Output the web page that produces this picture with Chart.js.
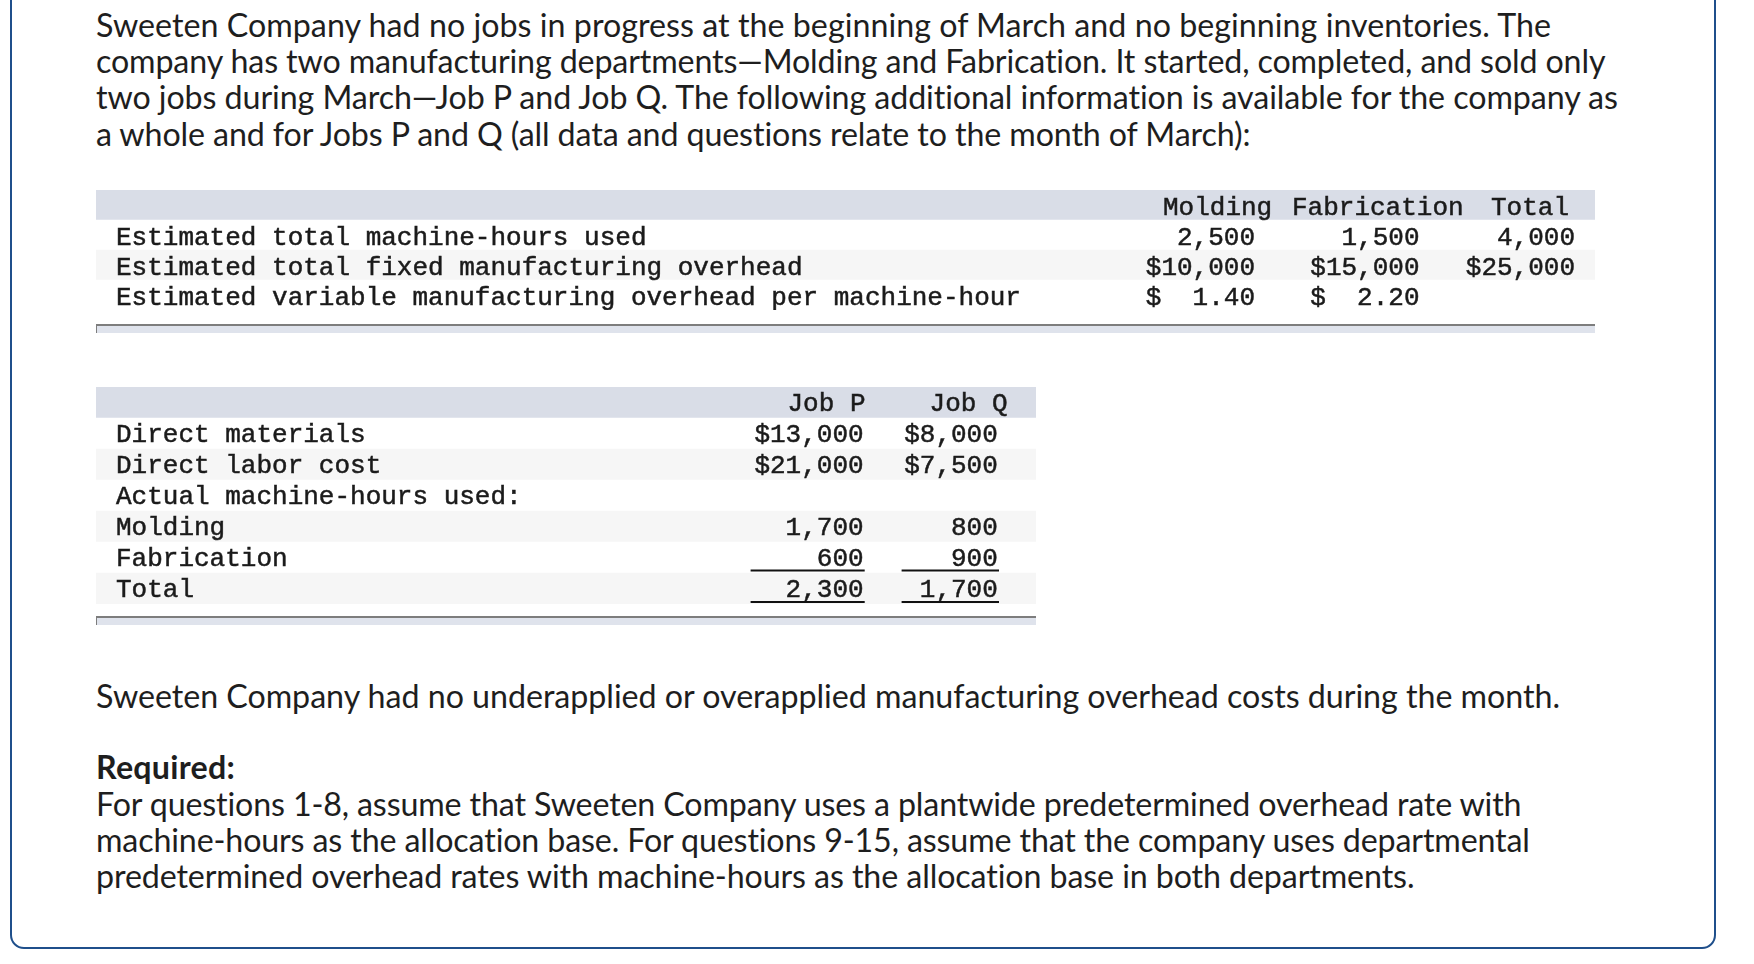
<!DOCTYPE html>
<html>
<head>
<meta charset="utf-8">
<script src="https://cdn.jsdelivr.net/npm/chart.js@4.4.1/dist/chart.umd.min.js"></script>
<style>
  html, body { margin: 0; padding: 0; background: #fff; }
  body { width: 1754px; height: 964px; position: relative; overflow: hidden; font-family: Lato, "Open Sans", sans-serif; color: #1e1e1e; }
  .frame { position: absolute; left: 10px; top: -30px; width: 1702px; height: 975px; border: 2.5px solid #1f4f8b; border-radius: 14px; }
  .line { position: absolute; left: 96px; white-space: nowrap; line-height: 36px; height: 36px; }
  .line.b { font-weight: 700; }
  canvas { position: absolute; }
  .rule { position: absolute; border-top: 2px solid #7d7d7d; border-left: 1px solid #7d7d7d; background: #dfe3ec; height: 9px; box-sizing: border-box; }
</style>
</head>
<body>
<div class="frame"></div>
<div id="text"></div>
<canvas id="t1" width="1499" height="120" style="left:96px; top:190px;"></canvas>
<div class="rule" style="left:96px; top:324px; width:1499px;"></div>
<canvas id="t2" width="940" height="217" style="left:96px; top:387px;"></canvas>
<div class="rule" style="left:96px; top:616px; width:940px;"></div>
<script>
// texte
var introLines = [
  'Sweeten Company had no jobs in progress at the beginning of March and no beginning inventories. The',
  'company has two manufacturing departments\u2014Molding and Fabrication. It started, completed, and sold only',
  'two jobs during March\u2014Job P and Job Q. The following additional information is available for the company as',
  'a whole and for Jobs P and Q (all data and questions relate to the month of March):'
];
var noteLine = 'Sweeten Company had no underapplied or overapplied manufacturing overhead costs during the month.';
var requiredTitle = 'Required:';
var requiredLines = [
  'For questions 1-8, assume that Sweeten Company uses a plantwide predetermined overhead rate with',
  'machine-hours as the allocation base. For questions 9-15, assume that the company uses departmental',
  'predetermined overhead rates with machine-hours as the allocation base in both departments.'
];

// tableau 1
var t1Rows = ['', 'Estimated total machine-hours used', 'Estimated total fixed manufacturing overhead', 'Estimated variable manufacturing overhead per machine-hour'];
var t1Heads = ['Molding', 'Fabrication', 'Total'];
var t1Molding = ['', '2,500', '$10,000', '$  1.40'];
var t1Fabrication = ['', '1,500', '$15,000', '$  2.20'];
var t1Total = ['', '4,000', '$25,000', ''];

// tableau 2
var t2Rows = ['', 'Direct materials', 'Direct labor cost', 'Actual machine-hours used:', 'Molding', 'Fabrication', 'Total'];
var t2Heads = ['Job P', 'Job Q'];
var t2JobP = ['', '$13,000', '$21,000', '', '1,700', '600', '2,300'];
var t2JobQ = ['', '$8,000', '$7,500', '', '800', '900', '1,700'];

var HEAD = '#d9dde7', WHITE = '#ffffff', STRIPE = '#f6f6f6';

// taille de police ajustee sur la premiere ligne
var mc = document.createElement('canvas').getContext('2d');
mc.font = '100px Lato';
var fs = 100 * 1455 / mc.measureText(introLines[0]).width;

var textBox = document.getElementById('text');
function addLine(txt, cy, width, bold) {
  var d = document.createElement('div');
  d.className = 'line' + (bold ? ' b' : '');
  d.style.top = (cy - 18) + 'px';
  d.style.fontSize = fs.toFixed(2) + 'px';
  d.textContent = txt;
  textBox.appendChild(d);
  // petit reglage de l'espacement pour retrouver la longueur de ligne
  var w = d.getBoundingClientRect().width;
  d.style.letterSpacing = ((width - w) / txt.length).toFixed(3) + 'px';
}
var introW = [1455, 1510, 1523, 1155];
[25, 61, 97, 134].forEach(function (y, i) { addLine(introLines[i], y, introW[i]); });
addLine(noteLine, 696, 1464);
addLine(requiredTitle, 767, 139, true);
var reqW = [1426, 1435, 1319];
[804, 840, 876].forEach(function (y, i) { addLine(requiredLines[i], y, reqW[i]); });

// plugin texte des cellules
var cellText = {
  id: 'cellText',
  afterDatasetsDraw: function (chart, args, opts) {
    var ctx = chart.ctx, y = chart.scales.y;
    var dy = opts.dy;
    ctx.save();
    ctx.font = '26px "Liberation Mono", monospace';
    ctx.fillStyle = '#1b1b1b';
    ctx.strokeStyle = '#1b1b1b';
    ctx.lineWidth = 0.5;
    ctx.textBaseline = 'middle';
    function put(t, x, py, align) {
      ctx.textAlign = align;
      ctx.fillText(t, x, py);
      ctx.strokeText(t, x, py);
    }
    opts.rows.forEach(function (r, i) {
      var py = y.getPixelForValue(i) + dy;
      put(r, 20, py, 'left');
      opts.cols.forEach(function (c) { put(c.data[i], c.right, py, 'right'); });
    });
    var hy = y.getPixelForValue(0) + dy;
    opts.heads.forEach(function (h) { put(h.text, h.left, hy, 'left'); });
    // soulignements
    ctx.fillStyle = '#111';
    (opts.lines || []).forEach(function (l) {
      var ly = y.getPixelForValue(l.row) + l.dy;
      ctx.fillRect(l.x0, ly, l.x1 - l.x0, 2);
    });
    ctx.restore();
  }
};

function makeTable(id, rows, colors, opts) {
  new Chart(document.getElementById(id), {
    type: 'bar',
    data: {
      labels: rows,
      datasets: [{
        data: rows.map(function () { return [0, 1]; }),
        backgroundColor: colors,
        borderWidth: 0,
        barPercentage: 1,
        categoryPercentage: 1
      }]
    },
    options: {
      indexAxis: 'y',
      responsive: false,
      animation: false,
      events: [],
      layout: { padding: 0 },
      plugins: { legend: { display: false }, tooltip: { enabled: false }, cellText: opts },
      scales: {
        x: { type: 'linear', min: 0, max: 1, display: false },
        y: { type: 'category', display: false }
      }
    },
    plugins: [cellText]
  });
}

makeTable('t1', t1Rows, [HEAD, WHITE, STRIPE, WHITE], {
  rows: t1Rows,
  dy: 3,
  cols: [
    { data: t1Molding, right: 1159 },
    { data: t1Fabrication, right: 1323.5 },
    { data: t1Total, right: 1479 }
  ],
  heads: [
    { text: t1Heads[0], left: 1067 },
    { text: t1Heads[1], left: 1196 },
    { text: t1Heads[2], left: 1395 }
  ]
});

makeTable('t2', t2Rows, [HEAD, WHITE, STRIPE, WHITE, STRIPE, WHITE, STRIPE], {
  rows: t2Rows,
  dy: 2,
  cols: [
    { data: t2JobP, right: 767.6 },
    { data: t2JobQ, right: 901.8 }
  ],
  heads: [
    { text: t2Heads[0], left: 691.5 },
    { text: t2Heads[1], left: 833.6 }
  ],
  lines: [
    { row: 5, dy: 12, x0: 654.6, x1: 768.7 },
    { row: 5, dy: 12, x0: 805.6, x1: 903 },
    { row: 6, dy: 12.5, x0: 654.6, x1: 768.7 },
    { row: 6, dy: 16, x0: 654.6, x1: 768.7 },
    { row: 6, dy: 12.5, x0: 805.6, x1: 903 },
    { row: 6, dy: 16, x0: 805.6, x1: 903 }
  ]
});
</script>
</body>
</html>
